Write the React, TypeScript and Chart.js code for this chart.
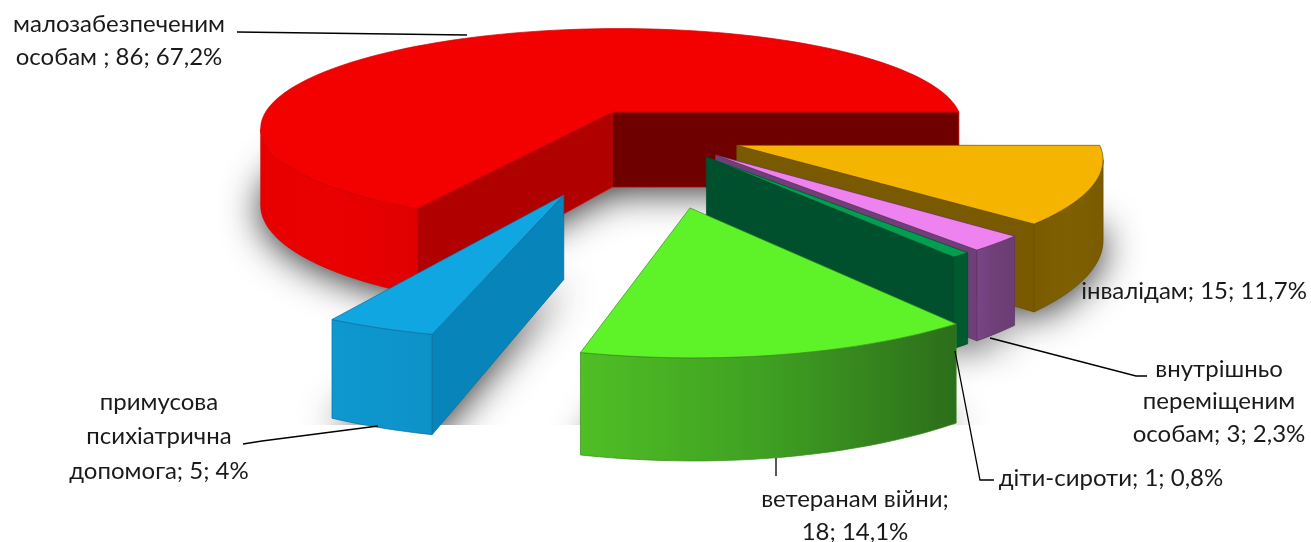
import React, { useEffect, useRef } from "react";
import { Chart, registerables } from "chart.js";

Chart.register(...registerables);

// ---- data ----
const categories = [
  "малозабезпеченим особам ",
  "інвалідам",
  "внутрішньо переміщеним особам",
  "діти-сироти",
  "ветеранам війни",
  "примусова психіатрична допомога",
];
const values = [86, 15, 3, 1, 18, 5];

// ---- explode of every slice on the pie's ground plane, in radii ----
const explodeX = [-0.155, 0.195, 0.135, 0.11, 0.062, -0.262];
const explodeY = [-0.257, 0.075, 0.166, 0.185, 0.62, 0.515];

// ---- styles ----
const topColors = ["#f30000", "#f4b400", "#ee82ee", "#00a050", "#5ef229", "#10a6e2"];
const startWallColors = ["#b00000", "#7a5a00", "#6f3f78", "#00502e", "#2c6e1a", "#0784ba"];
const endWallColors = ["#6e0000", "#7a5a00", "#6f3f78", "#00502e", "#2c6e1a", "#0784ba"];
const outerStops = [
  ["#e80000", "#ea0000", "#e00000"],
  ["#7a5b00", "#7f6000", "#7a5b00"],
  ["#7a4586", "#6f3f78", "#6c3c74"],
  ["#005a30", "#005a30", "#005a30"],
  ["#4fbf25", "#3f9f22", "#2c6e1a"],
  ["#0d98d0", "#0d95cc", "#0d92c8"],
];
const edgeColors = ["#d00000", "#6b5000", "#5e3466", "#004a28", "#3a8a1c", "#0b6fa0"];

// ---- labels ----
const labelLines = [
  ["малозабезпеченим", "особам ; 86; 67,2%"],
  ["інвалідам; 15; 11,7%"],
  ["внутрішньо", "переміщеним", "особам; 3; 2,3%"],
  ["діти-сироти; 1; 0,8%"],
  ["ветеранам війни;", "18; 14,1%"],
  ["примусова", "психіатрична", "допомога; 5; 4%"],
];
const labelX = [119, 1194, 1219, 1111, 855, 159];
const labelY = [24, 291, 369, 478, 499, 402];
const labelStep = [33, 33, 32.5, 33, 33, 34.5];
const leaders: number[][][] = [
  [[237, 32], [467, 35]],
  [],
  [[990, 338], [1136, 376], [1147, 376]],
  [[955, 351], [980, 480], [994, 480]],
  [[776, 458], [776, 476]],
  [[243, 444], [262, 441], [378, 426]],
];

// ---- projection ----
const P = 0.15;
const CX = 666;
const CY = 137.5;
const RX = 360;
const RY = 103;
const DEPTH = 78;
const SQUEEZE = 0.04;
const SQUEEZE_LIMIT = 0.9;
const FLOOR_Y = 425;
const FONT = '24px Lato, "Open Sans"';

type Pt = [number, number];
function project(x: number, y: number, z: number): Pt {
  const w = 1 - P * y;
  const x2 = x > 0 && y > 0 ? x * (1 - SQUEEZE * Math.min(y, SQUEEZE_LIMIT)) : x;
  return [CX + (RX * x2) / w, CY + (RY * y) / w + (z * DEPTH) / w];
}

function poly(ctx: CanvasRenderingContext2D, pts: Pt[]) {
  ctx.beginPath();
  pts.forEach((p, i) => (i ? ctx.lineTo(p[0], p[1]) : ctx.moveTo(p[0], p[1])));
  ctx.closePath();
}

function sliceGround(start: number, end: number, i: number): Pt[] {
  const n = Math.max(4, Math.ceil(((end - start) * 180) / Math.PI / 2));
  const pts: Pt[] = [];
  for (let k = 0; k <= n; k++) {
    const a = start + ((end - start) * k) / n;
    pts.push([Math.cos(a) + explodeX[i], Math.sin(a) + explodeY[i]]);
  }
  return pts;
}

const pie3d = {
  id: "pie3d",
  beforeDatasetsDraw(chart: any) {
    const ctx: CanvasRenderingContext2D = chart.ctx;
    const arcs = chart.getDatasetMeta(0).data;
    const rings: { arc: Pt[]; i: number }[] = arcs.map((el: any, i: number) => {
      const { startAngle, endAngle } = el.getProps(["startAngle", "endAngle"], true);
      return { arc: sliceGround(startAngle, endAngle, i), i };
    });

    // ground shadows
    ctx.save();
    ctx.beginPath();
    ctx.rect(0, 0, chart.width, FLOOR_Y);
    ctx.clip();
    rings.forEach(({ arc, i }) => {
      const bottom = [[explodeX[i], explodeY[i]] as Pt, ...arc].map((p) => project(p[0], p[1], 1));
      ctx.shadowColor = "rgba(0,0,0,0.85)";
      ctx.shadowBlur = 38;
      ctx.shadowOffsetX = 0;
      ctx.shadowOffsetY = 4;
      ctx.fillStyle = "#888";
      poly(ctx, bottom);
      ctx.fill();
    });
    ctx.restore();

    // solid slices, back to front
    rings.forEach(({ arc, i }) => {
      const apex: Pt = [explodeX[i], explodeY[i]];
      const top = (p: Pt) => project(p[0], p[1], 0);
      const bot = (p: Pt) => project(p[0], p[1], 1);
      const wall = (a: Pt, b: Pt, color: string) => {
        if (top(b)[0] >= top(a)[0]) return;
        poly(ctx, [top(a), top(b), bot(b), bot(a)]);
        ctx.fillStyle = color;
        ctx.fill();
        ctx.lineWidth = 0.7;
        ctx.strokeStyle = edgeColors[i];
        ctx.stroke();
      };
      wall(apex, arc[0], startWallColors[i]);
      wall(arc[arc.length - 1], apex, endWallColors[i]);

      // outer wall
      const run: Pt[] = [];
      for (let k = 0; k < arc.length - 1; k++) {
        if (top(arc[k + 1])[0] < top(arc[k])[0]) {
          if (!run.length) run.push(arc[k]);
          run.push(arc[k + 1]);
        }
      }
      if (run.length) {
        const outline = [...run.map(top), ...run.slice().reverse().map(bot)];
        const xs = outline.map((p) => p[0]);
        const g = ctx.createLinearGradient(Math.min(...xs), 0, Math.max(...xs), 0);
        outerStops[i].forEach((c, k) => g.addColorStop(k / 2, c));
        poly(ctx, outline);
        ctx.fillStyle = g;
        ctx.fill();
        ctx.lineWidth = 0.7;
        ctx.strokeStyle = edgeColors[i];
        ctx.stroke();
      }

      // top face
      poly(ctx, [apex, ...arc].map(top));
      ctx.fillStyle = topColors[i];
      ctx.fill();
      ctx.lineWidth = 0.7;
      ctx.strokeStyle = edgeColors[i];
      ctx.stroke();
    });

    // leader lines
    ctx.strokeStyle = "#000";
    ctx.lineWidth = 1.3;
    leaders.forEach((line) => {
      if (!line.length) return;
      ctx.beginPath();
      line.forEach((p, k) => (k ? ctx.lineTo(p[0], p[1]) : ctx.moveTo(p[0], p[1])));
      ctx.stroke();
    });

    // labels
    ctx.fillStyle = "#1a1a1a";
    ctx.font = FONT;
    ctx.textAlign = "center";
    ctx.textBaseline = "middle";
    labelLines.forEach((lines, i) => {
      lines.forEach((t, k) => ctx.fillText(t, labelX[i], labelY[i] + k * labelStep[i]));
    });
    return false;
  },
};

export default function App() {
  const ref = useRef<HTMLCanvasElement>(null);
  useEffect(() => {
    document.body.style.margin = "0";
    const chart = new Chart(ref.current as HTMLCanvasElement, {
      type: "pie",
      data: {
        labels: categories,
        datasets: [{ data: values, backgroundColor: topColors, borderWidth: 0 }],
      },
      options: {
        animation: false,
        responsive: false,
        rotation: -151.875,
        layout: { padding: 0 },
        plugins: { legend: { display: false }, tooltip: { enabled: false } },
      },
      plugins: [pie3d],
    } as any);
    return () => chart.destroy();
  }, []);
  return (
    <canvas
      ref={ref}
      width={1311}
      height={542}
      style={{ display: "block", width: 1311, height: 542, background: "#fff" }}
    />
  );
}
